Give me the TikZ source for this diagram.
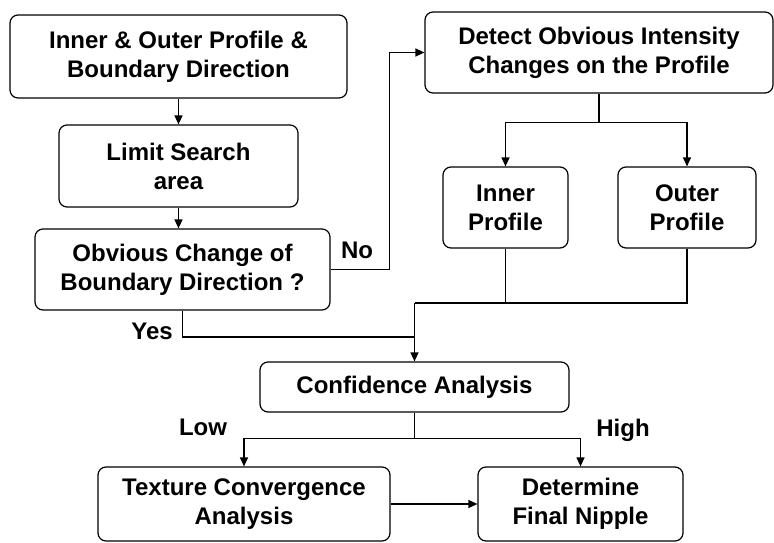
\documentclass[tikz,border=0pt]{standalone}
\usepackage{fontspec}
\setmainfont{Liberation Sans}
\usetikzlibrary{arrows.meta}

\begin{document}
\begin{tikzpicture}[%
    x=1pt, y=-1pt,                      % Work in pixel-like units, top-down
    >={Triangle[length=9pt,width=8pt]}, % Filled arrow heads
    line width=1.2pt,
    ]
% -------------------------------------------------
% Box and line styles
\tikzset{
  base/.style={draw, rounded corners=8pt, align=center, inner sep=2pt,
    font=\fontsize{24}{29}\selectfont\bfseries},
  sz/.style 2 args={base, minimum width=#1pt, minimum height=#2pt},
  norm/.style={draw},
  arr/.style={->, draw},
  lbl/.style={font=\fontsize{24}{29}\selectfont\bfseries}
}
\useasboundingbox (0,0) rectangle (774,543);
% -------------------------------------------------
% Place the boxes

\node [sz={337}{83}] (prof) at (178.5,56.5) {Inner \& Outer Profile \&\\Boundary Direction};
\node [sz={239}{82}] (limit) at (178.5,166) {Limit Search\\area};
\node [sz={295}{81}] (change) at (182.5,269.5) {Obvious Change of\\Boundary Direction ?};
\node [sz={348}{81}] (detect) at (599,52.5) {Detect Obvious Intensity\\Changes on the Profile};
\node [sz={125}{81}] (inner) at (505.5,207.5) {Inner\\Profile};
\node [sz={138}{81}] (outer) at (687,207.5) {Outer\\Profile};
\node [sz={309}{50}] (conf) at (414.5,387) {Confidence Analysis};
\node [sz={292}{74}] (texture) at (244,504) {Texture Convergence\\Analysis};
\node [sz={205}{74}] (determine) at (580.5,504) {Determine\\Final Nipple};

% Branch points
\path (detect.south) ++(0,29) coordinate (split);
\coordinate (merge) at (414.5,303);
\coordinate (yesend) at (414.5,337);
\path (conf.south) ++(0,26) coordinate (fork);

% -------------------------------------------------
% Connectors
\draw[arr] (prof) -- (limit);                          %profile,limit
\draw[arr] (limit) -- (limit |- change.north);         %limit,change
\draw[arr] (change.east) -- ++(59,0) |- (detect.west); %No
\draw[norm] (detect.south) -- (split);
\draw[arr] (split) -| (inner.north);
\draw[arr] (split) -| (outer.north);
\draw[norm] (inner.south) |- (merge);
\draw[norm] (outer.south) |- (merge);
\draw[norm] (change.south) |- (yesend);                %Yes
\draw[arr] (merge) -- (conf.north);
\draw[norm] (conf.south) -- (fork);
\draw[arr] (fork) -| (texture.north);                  %Low
\draw[arr] (fork) -| (determine.north);                %High
\draw[arr] (texture) -- (determine);

% Branch labels
\node [lbl] (no) at (357,250) {No};
\node [lbl] (yes) at (152,331) {Yes};
\node [lbl] (low) at (203,427) {Low};
\node [lbl] (high) at (623,430) {High};

% -------------------------------------------------
\end{tikzpicture}
\end{document}
